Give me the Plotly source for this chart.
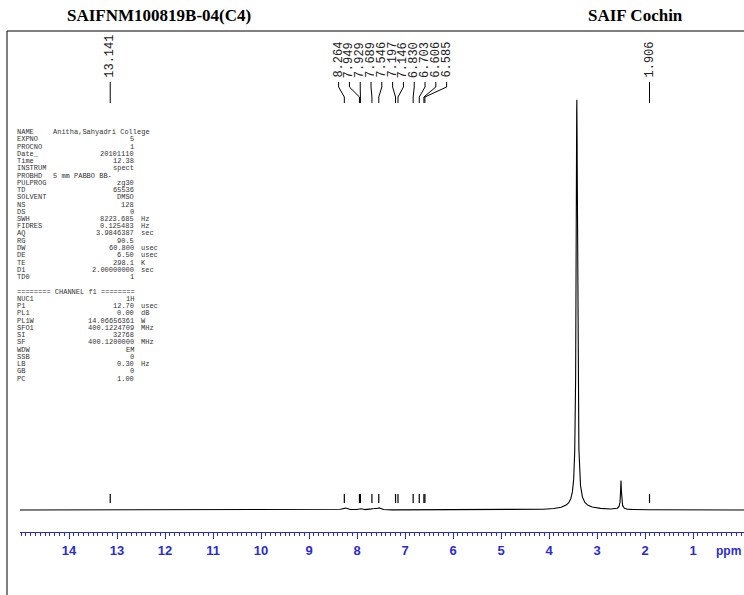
import numpy as np
import plotly.graph_objects as go

# ---------------- data ----------------
title_left = "SAIFNM100819B-04(C4)"
title_right = "SAIF Cochin"

# peaks (ppm, relative height, half width in ppm)
peak_ppm = [3.42, 3.42, 3.40, 2.50, 2.50, 8.26, 7.94, 7.67, 7.55, 7.17, 6.70]
peak_height = [100.0, 1.2, 0.6, 6.4, 0.8, 0.55, 0.4, 0.3, 0.55, 0.1, 0.1]
peak_hwhm = [0.017, 0.11, 0.35, 0.010, 0.04, 0.06, 0.04, 0.04, 0.05, 0.02, 0.02]

# picked peak labels
pick_isolated = [13.141, 1.906]
pick_cluster = [8.264, 7.949, 7.929, 7.689, 7.546, 7.197, 7.146, 6.830, 6.703, 6.606, 6.585]
tick_vals = list(range(1, 15))

param_names = ["NAME", "EXPNO", "PROCNO", "Date_", "Time", "INSTRUM", "PROBHD", "PULPROG",
               "TD", "SOLVENT", "NS", "DS", "SWH", "FIDRES", "AQ", "RG", "DW", "DE", "TE",
               "D1", "TD0"]
param_values = ["Anitha,Sahyadri College", "5", "1", "20101110", "12.38", "spect",
                "5 mm PABBO BB-", "zg30", "65536", "DMSO", "128", "0", "8223.685",
                "0.125483", "3.9846387", "90.5", "60.800", "6.50", "298.1",
                "2.00000000", "1"]
param_units = ["", "", "", "", "", "", "", "", "", "", "", "", "Hz", "Hz", "sec", "",
               "usec", "usec", "K", "sec", ""]
chan_header = "======== CHANNEL f1 ========"
chan_names = ["NUC1", "P1", "PL1", "PL1W", "SFO1", "SI", "SF", "WDW", "SSB", "LB", "GB", "PC"]
chan_values = ["1H", "12.70", "0.00", "14.06656361", "400.1224709", "32768",
               "400.1200000", "EM", "0", "0.30", "0", "1.00"]
chan_units = ["", "usec", "dB", "W", "MHz", "", "MHz", "", "", "Hz", "", ""]

# ---------------- geometry helpers ----------------
W, H = 744, 595
PPM_PX = 48.0          # pixels per ppm
X14 = 69.0             # pixel of 14 ppm
BASE_PY = 510.0        # baseline pixel
TOP_PY = 107.0         # pixel of top of tallest peak
SCALE = (BASE_PY - TOP_PY) / 100.0
AXIS_PY = 532.0

def ppm_at(px):
    return 14 - (px - X14) / PPM_PX

def px_of(ppm):
    return X14 + (14 - ppm) * PPM_PX

def inten_at(py):
    return (BASE_PY - py) / SCALE

def pxx(px):
    return px / W

def pyy(py):
    return 1 - py / H

# spectrum from peak list
x = np.arange(ppm_at(20), ppm_at(W), -0.0008)
y = np.zeros_like(x)
for p, h, w in zip(peak_ppm, peak_height, peak_hwhm):
    y += h / (1 + ((x - p) / w) ** 2)

fig = go.Figure()
fig.add_trace(go.Scatter(x=x, y=y, mode="lines",
                         line=dict(color="black", width=1.1), hoverinfo="skip"))

# peak pick markers above the baseline
mx, my = [], []
for p in pick_isolated + pick_cluster:
    mx += [p, p, None]
    my += [inten_at(503), inten_at(494), None]
fig.add_trace(go.Scatter(x=mx, y=my, mode="lines",
                         line=dict(color="black", width=1.2), hoverinfo="skip"))

annotations = []
shapes = []

# titles
annotations.append(dict(x=pxx(65), y=pyy(15), xref="paper", yref="paper", xanchor="left",
                        yanchor="middle", showarrow=False, text="<b>%s</b>" % title_left,
                        font=dict(family="Liberation Serif", size=17, color="black")))
annotations.append(dict(x=pxx(586), y=pyy(15), xref="paper", yref="paper", xanchor="left",
                        yanchor="middle", showarrow=False, text="<b>%s</b>" % title_right,
                        font=dict(family="Liberation Serif", size=17, color="black")))

# frame
shapes.append(dict(type="line", xref="paper", yref="paper", x0=pxx(7), x1=1.0,
                   y0=pyy(31), y1=pyy(31), line=dict(color="black", width=1)))
shapes.append(dict(type="line", xref="paper", yref="paper", x0=pxx(7), x1=pxx(7),
                   y0=pyy(31), y1=0, line=dict(color="black", width=1)))

# peak labels
lab_font = dict(family="Liberation Mono", size=12, color="#222")
LAB_BOTTOM = 80
def add_label(ppm, lx):
    annotations.append(dict(x=pxx(lx), y=pyy(LAB_BOTTOM), xref="paper", yref="paper",
                            xanchor="center", yanchor="bottom", showarrow=False,
                            text="%.3f" % ppm, textangle=-90, font=lab_font))
    px = px_of(ppm)
    path = "M %f %f L %f %f L %f %f L %f %f" % (
        pxx(lx), pyy(82), pxx(lx), pyy(87), pxx(px), pyy(97), pxx(px), pyy(103))
    shapes.append(dict(type="path", xref="paper", yref="paper", path=path,
                       line=dict(color="black", width=1)))

for p in pick_isolated:
    add_label(p, px_of(p))
n = len(pick_cluster)
centre = (px_of(pick_cluster[0]) + px_of(pick_cluster[-1])) / 2 + 8
spacing = 10.8
for i, p in enumerate(pick_cluster):
    add_label(p, centre + (i - (n - 1) / 2) * spacing)

# parameter block
pfont = dict(family="Liberation Mono", size=7, color="#333")
ROW0, ROWH = 132, 7.25
def add_row(py, name, val, unit, left_val=False):
    annotations.append(dict(x=pxx(15), y=pyy(py), xref="paper", yref="paper", xanchor="left",
                            yanchor="middle", showarrow=False, text=name, font=pfont))
    if left_val:
        annotations.append(dict(x=pxx(51), y=pyy(py), xref="paper", yref="paper",
                                xanchor="left", yanchor="middle", showarrow=False,
                                text=val, font=pfont))
    else:
        annotations.append(dict(x=pxx(136), y=pyy(py), xref="paper", yref="paper",
                                xanchor="right", yanchor="middle", showarrow=False,
                                text=val, font=pfont))
    if unit:
        annotations.append(dict(x=pxx(139), y=pyy(py), xref="paper", yref="paper",
                                xanchor="left", yanchor="middle", showarrow=False,
                                text=unit, font=pfont))

for i, (nm, v, u) in enumerate(zip(param_names, param_values, param_units)):
    add_row(ROW0 + i * ROWH, nm, v, u, left_val=nm in ("NAME", "PROBHD"))
row = len(param_names) + 1
annotations.append(dict(x=pxx(15), y=pyy(ROW0 + row * ROWH), xref="paper", yref="paper",
                        xanchor="left", yanchor="middle", showarrow=False,
                        text=chan_header, font=pfont))
for j, (nm, v, u) in enumerate(zip(chan_names, chan_values, chan_units)):
    add_row(ROW0 + (row + 1 + j) * ROWH, nm, v, u)

# ppm unit label
blue = "#2b2bd6"
annotations.append(dict(x=pxx(743), y=pyy(551), xref="paper", yref="paper",
                        xanchor="right", yanchor="middle", showarrow=False,
                        text="<b>ppm</b>",
                        font=dict(family="Liberation Sans", size=12, color=blue)))

fig.update_layout(
    width=W, height=H, margin=dict(l=0, r=0, t=0, b=0),
    paper_bgcolor="white", plot_bgcolor="white", showlegend=False,
    xaxis=dict(domain=[20 / W, 1], range=[ppm_at(20), ppm_at(W)], anchor="free",
               position=1 - AXIS_PY / H, showgrid=False, zeroline=False,
               showline=True, linecolor=blue, linewidth=1,
               ticks="outside", ticklen=6, tickwidth=1, tickcolor=blue,
               tickvals=tick_vals, ticktext=[str(t) for t in tick_vals],
               tickfont=dict(family="Liberation Sans", size=13, color=blue, weight="bold"),
               minor=dict(dtick=0.1, ticklen=3, tickcolor=blue, ticks="outside",
                          showgrid=False)),
    yaxis=dict(domain=[0, 1], range=[inten_at(H), inten_at(0)], visible=False),
    annotations=annotations, shapes=shapes,
)

fig.write_html("out.html", config={"displayModeBar": False},
               post_script="document.body.style.margin='0';document.body.style.padding='0';")
